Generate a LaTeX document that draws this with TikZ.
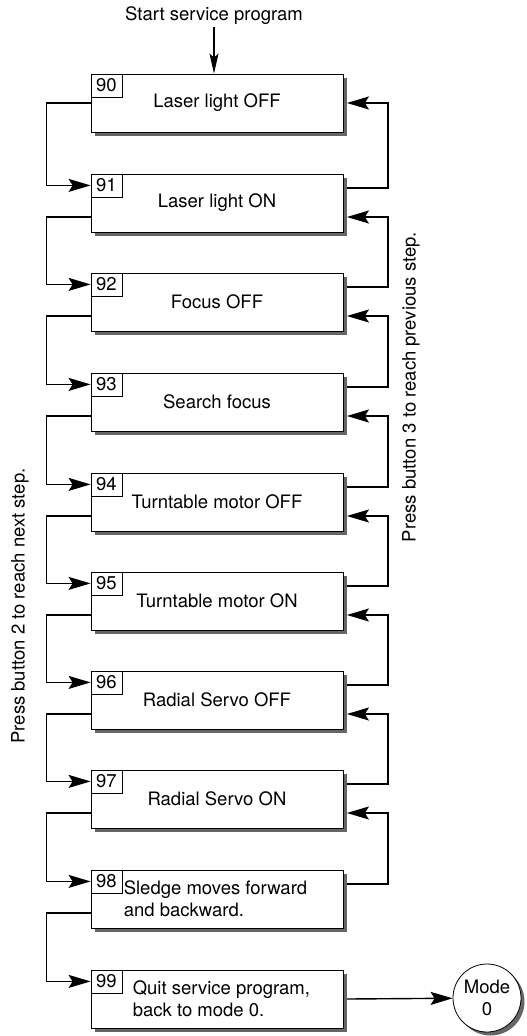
\documentclass[tikz,border=0pt]{standalone}
\usepackage{fontspec}
\setmainfont{TeX Gyre Heros}
\usetikzlibrary{arrows.meta, positioning}
\tikzset{
	stepbox/.style={draw=black, line width=0.8pt, fill=white, minimum width=252pt,
		minimum height=58pt, inner sep=0pt,
		preaction={draw=none, fill=black!60, transform canvas={shift={(3.5pt,-3.5pt)}}}}
}
\tikzset{
	numbox/.style={draw=black, line width=0.6pt, fill=white, minimum width=31pt,
		minimum height=23pt, inner sep=0pt, anchor=north west}
}
\tikzset{
	flow/.style={line width=1.4pt, -{Stealth[length=22pt,width=13pt,inset=4pt]}},
	startflow/.style={line width=1.4pt, -{Stealth[length=20pt,width=9pt,inset=4pt]}}
}

\begin{document}
\begin{tikzpicture}[x=1pt, y=-1pt, font=\fontsize{18.5}{22}\selectfont]

  \tikzset{
    modecircle/.style={
        shape=circle,
        draw=black,
        line width=0.8pt,
        fill=white,
        minimum size=68pt,
        inner sep=0pt,
        align=center,
        preaction={draw=none, fill=black!60, transform canvas={shift={(3.5pt,-3.5pt)}}}
      }
  }

  \useasboundingbox (0,0) rectangle (527,1036);

  \node[inner sep=2pt] (start) at (214,16) {Start service program};

  \node[stepbox] (b90) at (217,103) {Laser light OFF};
  \node[stepbox] (b91) at (217,203) {Laser light ON};
  \node[stepbox] (b92) at (217,302) {Focus OFF};
  \node[stepbox] (b93) at (217,402) {Search focus};
  \node[stepbox] (b94) at (217,502) {Turntable motor OFF};
  \node[stepbox] (b95) at (217,601) {Turntable motor ON};
  \node[stepbox] (b96) at (217,700) {Radial Servo OFF};
  \node[stepbox] (b97) at (217,799) {Radial Servo ON};
  \node[stepbox] (b98) at (217,899) {};
  \node[stepbox] (b99) at (217,999) {};

  \node[anchor=west, align=left, inner sep=0pt] (t98) at ([xshift=33pt]b98.west) {Sledge moves forward\\and backward.};
  \node[anchor=west, align=left, inner sep=0pt] (t99) at ([xshift=42pt]b99.west) {Quit service program,\\back to mode 0.};

  \node[numbox] (n90) at (b90.north west) {90};
  \node[numbox] (n91) at (b91.north west) {91};
  \node[numbox] (n92) at (b92.north west) {92};
  \node[numbox] (n93) at (b93.north west) {93};
  \node[numbox] (n94) at (b94.north west) {94};
  \node[numbox] (n95) at (b95.north west) {95};
  \node[numbox] (n96) at (b96.north west) {96};
  \node[numbox] (n97) at (b97.north west) {97};
  \node[numbox] (n98) at (b98.north west) {98};
  \node[numbox] (n99) at (b99.north west) {99};

  \node[modecircle] (mode) at (487,998) {Mode\\0};

  \node[rotate=90] (next) at (20,606) {Press button 2 to reach next step.};
  \node[rotate=90] (prev) at (411,387) {Press button 3 to reach previous step.};

  \draw[startflow] (start.south) -- (start.south |- b90.north);

  % next step
  \draw[flow] (b90.west) -- ++(-44,0) |- (n91.west);
  \draw[flow] ([yshift=-14pt]b91.west) -- ++(-44,0) |- (n92.west);
  \draw[flow] ([yshift=-14pt]b92.west) -- ++(-44,0) |- (n93.west);
  \draw[flow] ([yshift=-14pt]b93.west) -- ++(-44,0) |- (n94.west);
  \draw[flow] ([yshift=-14pt]b94.west) -- ++(-44,0) |- (n95.west);
  \draw[flow] ([yshift=-14pt]b95.west) -- ++(-44,0) |- (n96.west);
  \draw[flow] ([yshift=-14pt]b96.west) -- ++(-44,0) |- (n97.west);
  \draw[flow] ([yshift=-14pt]b97.west) -- ++(-44,0) |- (n98.west);
  \draw[flow] ([yshift=-14pt]b98.west) -- ++(-44,0) |- (n99.west);

  % previous step
  \draw[flow] ([xshift=3.5pt,yshift=15pt]b91.east) -- ++(41,0) |- ([xshift=3.5pt]b90.east);
  \draw[flow] ([xshift=3.5pt,yshift=15pt]b92.east) -- ++(41,0) |- ([xshift=3.5pt,yshift=-14pt]b91.east);
  \draw[flow] ([xshift=3.5pt,yshift=15pt]b93.east) -- ++(41,0) |- ([xshift=3.5pt,yshift=-14pt]b92.east);
  \draw[flow] ([xshift=3.5pt,yshift=15pt]b94.east) -- ++(41,0) |- ([xshift=3.5pt,yshift=-14pt]b93.east);
  \draw[flow] ([xshift=3.5pt,yshift=15pt]b95.east) -- ++(41,0) |- ([xshift=3.5pt,yshift=-14pt]b94.east);
  \draw[flow] ([xshift=3.5pt,yshift=15pt]b96.east) -- ++(41,0) |- ([xshift=3.5pt,yshift=-14pt]b95.east);
  \draw[flow] ([xshift=3.5pt,yshift=15pt]b97.east) -- ++(41,0) |- ([xshift=3.5pt,yshift=-14pt]b96.east);
  \draw[flow] ([xshift=3.5pt,yshift=15pt]b98.east) -- ++(41,0) |- ([xshift=3.5pt,yshift=-14pt]b97.east);

  \draw[flow] ([xshift=3.5pt]b99.east) -- (mode);

\end{tikzpicture}
\end{document}
